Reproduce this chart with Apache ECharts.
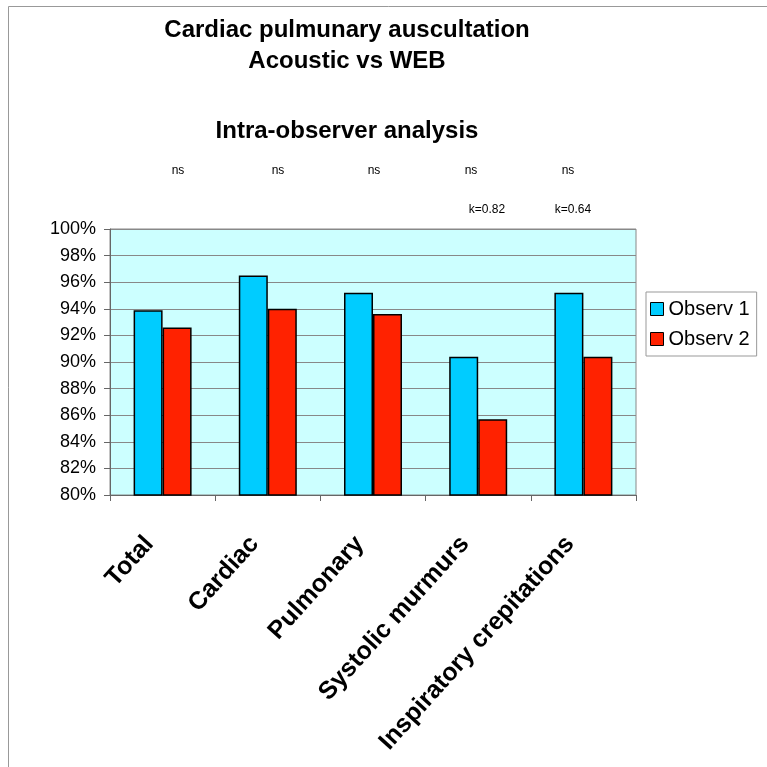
<!DOCTYPE html>
<html><head><meta charset="utf-8">
<script src="https://cdn.jsdelivr.net/npm/echarts@6/dist/echarts.min.js"></script>
<style>html,body{margin:0;padding:0;background:#fff}#c{width:767px;height:767px}</style>
</head><body><div id="c"></div>
<script>
const categories = ['Total', 'Cardiac', 'Pulmonary', 'Systolic murmurs', 'Inspiratory crepitations'];
const observ1 = [93.9, 96.5, 95.2, 90.4, 95.2];
const observ2 = [92.6, 94.0, 93.6, 85.7, 90.4];
const seriesNames = ['Observ 1', 'Observ 2'];
const sigLabels = ['ns', 'ns', 'ns', 'ns', 'ns'];
const kappaLabels = ['', '', '', 'k=0.82', 'k=0.64'];
const yTicks = [80, 82, 84, 86, 88, 90, 92, 94, 96, 98, 100];

const FONT = '"Liberation Sans", Arial, Helvetica, sans-serif';
const chart = echarts.init(document.getElementById('c'), null, {renderer: 'canvas'});

const sigX = [178, 278, 374, 471, 568];
const kX = [0, 0, 0, 487, 573];
const graphics = [
  {type: 'rect', shape: {x: 8.5, y: 6.5, width: 800, height: 800}, style: {fill: 'none', stroke: '#999', lineWidth: 1}, silent: true},
  {type: 'text', x: 347, y: 30, style: {text: 'Cardiac pulmunary auscultation', font: 'bold 24px ' + FONT, fill: '#000', align: 'center', verticalAlign: 'middle'}},
  {type: 'text', x: 347, y: 61, style: {text: 'Acoustic vs WEB', font: 'bold 24px ' + FONT, fill: '#000', align: 'center', verticalAlign: 'middle'}},
  {type: 'text', x: 347, y: 131, style: {text: 'Intra-observer analysis', font: 'bold 24px ' + FONT, fill: '#000', align: 'center', verticalAlign: 'middle'}}
];
sigLabels.forEach((t, i) => {
  if (t) graphics.push({type: 'text', x: sigX[i], y: 171, style: {text: t, font: '12px ' + FONT, fill: '#000', align: 'center', verticalAlign: 'middle'}});
});
kappaLabels.forEach((t, i) => {
  if (t) graphics.push({type: 'text', x: kX[i], y: 210, style: {text: t, font: '12px ' + FONT, fill: '#000', align: 'center', verticalAlign: 'middle'}});
});

chart.setOption({
  animation: false,
  backgroundColor: '#fff',
  textStyle: {fontFamily: FONT},
  graphic: graphics,
  legend: {
    orient: 'vertical', left: 646, top: 292, padding: [7, 7, 7, 4],
    backgroundColor: '#fff', borderColor: '#999', borderWidth: 1,
    itemWidth: 13, itemHeight: 13, itemGap: 10, icon: 'rect',
    textStyle: {fontSize: 20, color: '#000', fontFamily: FONT},
    itemStyle: {borderColor: '#000', borderWidth: 1},
    data: seriesNames
  },
  grid: {left: 110, right: 131, top: 229, bottom: 272, show: true, backgroundColor: '#CCFFFF', borderColor: '#888', borderWidth: 1},
  xAxis: {
    type: 'category', data: categories,
    axisLine: {lineStyle: {color: '#666'}},
    axisTick: {show: true, alignWithLabel: false, length: 6, lineStyle: {color: '#666'}},
    axisLabel: {rotate: 48, fontSize: 25, fontWeight: 'bold', color: '#000', margin: 30, padding: [0, 20, 0, 0], interval: 0, fontFamily: FONT},
    splitLine: {show: false}
  },
  yAxis: {
    type: 'value', min: yTicks[0], max: yTicks[yTicks.length - 1], interval: 2,
    axisLine: {show: true, lineStyle: {color: '#666'}},
    axisTick: {show: true, length: 6, lineStyle: {color: '#666'}},
    axisLabel: {fontSize: 18, color: '#000', margin: 14, formatter: v => v + '%', fontFamily: FONT},
    splitLine: {show: true, lineStyle: {color: '#888', width: 1}}
  },
  series: [
    {name: seriesNames[0], type: 'bar', data: observ1, barWidth: 29, barGap: '0%',
     itemStyle: {color: '#00CCFF', borderColor: '#000', borderWidth: 1.5}},
    {name: seriesNames[1], type: 'bar', data: observ2, barWidth: 29, barGap: '0%',
     itemStyle: {color: '#FF2200', borderColor: '#000', borderWidth: 1.5}}
  ]
});
</script></body></html>
